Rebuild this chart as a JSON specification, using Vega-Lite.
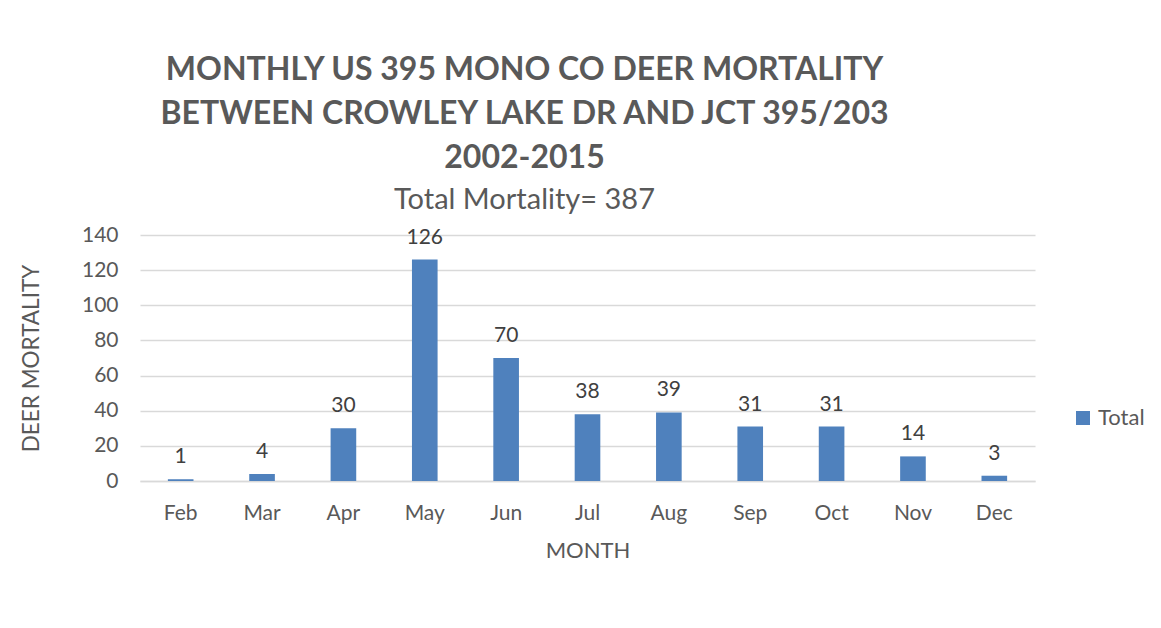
{
  "$schema": "https://vega.github.io/schema/vega-lite/v6.json",
  "autosize": "none",
  "width": 895,
  "height": 246,
  "padding": {"left": 140, "top": 235, "right": 126, "bottom": 147},
  "background": "white",
  "title": {
    "text": ["MONTHLY US 395 MONO CO DEER MORTALITY", "BETWEEN CROWLEY LAKE DR AND JCT 395/203", "2002-2015"],
    "subtitle": "Total Mortality= 387",
    "font": "Lato",
    "fontSize": 32,
    "fontWeight": "bold",
    "color": "#595959",
    "lineHeight": 44,
    "subtitleFont": "Lato",
    "subtitleFontSize": 29,
    "subtitleColor": "#595959",
    "subtitlePadding": 11,
    "anchor": "middle",
    "frame": "group",
    "dx": -63,
    "offset": 8
  },
  "data": {
    "values": [
      {"month": "Feb", "deaths": 1, "series": "Total"},
      {"month": "Mar", "deaths": 4, "series": "Total"},
      {"month": "Apr", "deaths": 30, "series": "Total"},
      {"month": "May", "deaths": 126, "series": "Total"},
      {"month": "Jun", "deaths": 70, "series": "Total"},
      {"month": "Jul", "deaths": 38, "series": "Total"},
      {"month": "Aug", "deaths": 39, "series": "Total"},
      {"month": "Sep", "deaths": 31, "series": "Total"},
      {"month": "Oct", "deaths": 31, "series": "Total"},
      {"month": "Nov", "deaths": 14, "series": "Total"},
      {"month": "Dec", "deaths": 3, "series": "Total"}
    ]
  },
  "encoding": {
    "x": {
      "field": "month",
      "type": "nominal",
      "sort": null,
      "scale": {"paddingInner": 0.685, "paddingOuter": 0.3425},
      "axis": {
        "title": "MONTH",
        "labelAngle": 0,
        "labelFont": "Lato",
        "labelFontSize": 21,
        "labelColor": "#595959",
        "labelPadding": 21,
        "ticks": false,
        "domainColor": "#D9D9D9",
        "domainWidth": 1.5,
        "titleFont": "Lato",
        "titleFontSize": 22,
        "titleFontWeight": "normal",
        "titleColor": "#595959",
        "titlePadding": 17
      }
    },
    "y": {
      "field": "deaths",
      "type": "quantitative",
      "scale": {"domain": [0, 140], "nice": false},
      "axis": {
        "title": "DEER MORTALITY",
        "values": [0, 20, 40, 60, 80, 100, 120, 140],
        "labelFont": "Lato",
        "labelFontSize": 21,
        "labelColor": "#595959",
        "labelPadding": 22,
        "ticks": false,
        "domain": false,
        "grid": true,
        "gridColor": "#D9D9D9",
        "gridWidth": 1.5,
        "titleFont": "Lato",
        "titleFontSize": 22.5,
        "titleFontWeight": "normal",
        "titleColor": "#595959",
        "titlePadding": 38
      }
    }
  },
  "layer": [
    {
      "mark": {"type": "bar"},
      "encoding": {
        "color": {
          "field": "series",
          "type": "nominal",
          "scale": {"range": ["#4F81BD"]},
          "legend": {
            "title": null,
            "orient": "none",
            "legendX": 932,
            "legendY": 172,
            "symbolType": "square",
            "symbolSize": 196,
            "symbolStrokeWidth": 0,
            "labelFont": "Lato",
            "labelFontSize": 22,
            "labelColor": "#595959",
            "labelOffset": 4
          }
        }
      }
    },
    {
      "mark": {"type": "text", "font": "Lato", "fontSize": 21, "color": "#404040", "baseline": "alphabetic", "dy": -16},
      "encoding": {
        "text": {"field": "deaths", "type": "quantitative"}
      }
    }
  ],
  "config": {
    "view": {"stroke": null}
  }
}
